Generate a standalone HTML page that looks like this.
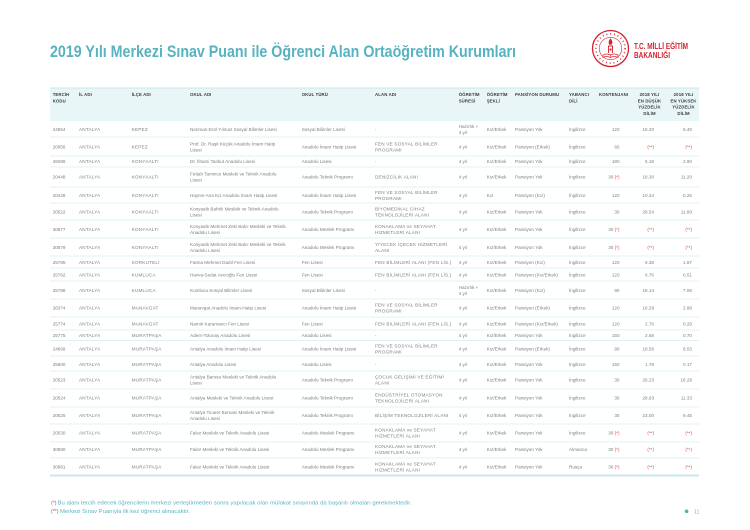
<!DOCTYPE html>
<html>
<head>
<meta charset="utf-8">
<style>
html,body{margin:0;padding:0;background:#fff;}
body{width:750px;height:530px;overflow:hidden;}
svg{display:block;}
.t{font-family:"Liberation Sans Narrow","Liberation Sans",sans-serif;font-weight:bold;font-size:16.5px;fill:#57b2c1;}
.lg{font-family:"Liberation Sans",sans-serif;font-weight:bold;font-size:8.4px;fill:#d3222e;}
.h{font-family:"Liberation Sans",sans-serif;font-weight:bold;font-size:4.3px;fill:#3c3c3c;letter-spacing:.12px;}
.c{text-anchor:middle;}
.d text{font-family:"Liberation Sans",sans-serif;font-size:4.6px;fill:#7e7e7e;}
.d .u{letter-spacing:.22px;}
.d .r{text-anchor:end;}
.d .red,.red{fill:#e0424f;}
.f{font-family:"Liberation Sans Narrow","Liberation Sans",sans-serif;font-size:5.2px;fill:#5ab3c2;}
.fr{font-family:"Liberation Sans Narrow","Liberation Sans",sans-serif;font-size:5.2px;fill:#e0424f;}
</style>
</head>
<body>
<svg width="750" height="530" viewBox="0 0 750 530" xmlns="http://www.w3.org/2000/svg">
<rect width="750" height="530" fill="#fff"/>
<!-- Title -->
<text class="t" x="50" y="57" textLength="466" lengthAdjust="spacingAndGlyphs">2019 Yılı Merkezi Sınav Puanı ile Öğrenci Alan Ortaöğretim Kurumları</text>
<!-- Logo -->
<g stroke="#d3222e" fill="none">
<circle cx="610.5" cy="48.5" r="18" stroke-width="1.3"/>
<circle cx="610.5" cy="48.5" r="14.6" stroke-width="1.6" stroke-dasharray="0.9 2.9"/>
<circle cx="610.5" cy="48.5" r="11.2" stroke-width="0.6"/>
<path d="M603 55 Q606.5 53 610.5 55 Q614.5 53 618 55 L618 57.5 Q614.5 55.5 610.5 57.5 Q606.5 55.5 603 57.5 Z" stroke-width="0.7"/>
<line x1="610.5" y1="55" x2="610.5" y2="57.5" stroke-width="0.6"/>
<path d="M608.5 53 L608.5 46 L612.5 46 L612.5 53" stroke-width="0.9"/>
<path d="M610.5 38.5 Q608 41.5 609.3 44.5 L611.7 44.5 Q613 41.5 610.5 38.5 Z" fill="#d3222e" stroke-width="0.4"/>
<circle cx="610.5" cy="49.5" r="1.1" fill="#d3222e" stroke="none"/>
</g>
<text class="lg" x="634" y="49" textLength="54" lengthAdjust="spacingAndGlyphs">T.C. MİLLİ EĞİTİM</text>
<text class="lg" x="634" y="57.8" textLength="36" lengthAdjust="spacingAndGlyphs">BAKANLIĞI</text>

<!-- Header -->
<rect x="50" y="88" width="649" height="33" fill="#e9f6f8"/>
<line x1="50" y1="88" x2="699" y2="88" stroke="#c9e7ec" stroke-width="1"/>
<g class="h">
<text class="h" x="52.7" y="95.9">TERCİH</text><text class="h" x="52.7" y="102.3">KODU</text>
<text class="h" x="79" y="95.9">İL ADI</text>
<text class="h" x="131.7" y="95.9">İLÇE ADI</text>
<text class="h" x="190" y="95.9">OKUL ADI</text>
<text class="h" x="301.7" y="95.9">OKUL TÜRÜ</text>
<text class="h" x="375" y="95.9">ALAN ADI</text>
<text class="h" x="458.7" y="95.9">ÖĞRETİM</text><text class="h" x="458.7" y="102.3">SÜRESİ</text>
<text class="h" x="486.7" y="95.9">ÖĞRETİM</text><text class="h" x="486.7" y="102.3">ŞEKLİ</text>
<text class="h" x="515" y="95.9">PANSİYON DURUMU</text>
<text class="h" x="569" y="95.9">YABANCI</text><text class="h" x="569" y="102.3">DİLİ</text>
<text class="h" x="599" y="95.9">KONTENJANI</text>
<text class="h c" x="649.5" y="95.9">2018 YILI</text><text class="h c" x="649.5" y="102.3">EN DÜŞÜK</text><text class="h c" x="649.5" y="108.6">YÜZDELİK</text><text class="h c" x="649.5" y="114.9">DİLİM</text>
<text class="h c" x="683.5" y="95.9">2018 YILI</text><text class="h c" x="683.5" y="102.3">EN YÜKSEK</text><text class="h c" x="683.5" y="108.6">YÜZDELİK</text><text class="h c" x="683.5" y="114.9">DİLİM</text>
</g>

<!-- Row lines -->
<g stroke="#d4ecf0" stroke-width="0.8">
<line x1="50" y1="137" x2="699" y2="137"/>
<line x1="50" y1="156" x2="699" y2="156"/>
<line x1="50" y1="167" x2="699" y2="167"/>
<line x1="50" y1="187" x2="699" y2="187"/>
<line x1="50" y1="203" x2="699" y2="203"/>
<line x1="50" y1="220" x2="699" y2="220"/>
<line x1="50" y1="238" x2="699" y2="238"/>
<line x1="50" y1="256" x2="699" y2="256"/>
<line x1="50" y1="268" x2="699" y2="268"/>
<line x1="50" y1="281" x2="699" y2="281"/>
<line x1="50" y1="299" x2="699" y2="299"/>
<line x1="50" y1="317" x2="699" y2="317"/>
<line x1="50" y1="330" x2="699" y2="330"/>
<line x1="50" y1="340.5" x2="699" y2="340.5"/>
<line x1="50" y1="356" x2="699" y2="356"/>
<line x1="50" y1="371" x2="699" y2="371"/>
<line x1="50" y1="389" x2="699" y2="389"/>
<line x1="50" y1="407" x2="699" y2="407"/>
<line x1="50" y1="424" x2="699" y2="424"/>
<line x1="50" y1="442" x2="699" y2="442"/>
<line x1="50" y1="458" x2="699" y2="458"/>
</g>
<line x1="50" y1="475.5" x2="699" y2="475.5" stroke="#cbe7ec" stroke-width="2"/>

<!-- Rows -->
<g class="d">
<!-- r1 -->
<g transform="translate(0,129.5)">
<text x="52.7" y="1.7">24854</text><text class="u" x="79" y="1.7">ANTALYA</text><text class="u" x="131.7" y="1.7">KEPEZ</text>
<text x="190" y="1.7">Neriman-Erol Yılmaz Sosyal Bilimler Lisesi</text><text x="301.7" y="1.7">Sosyal Bilimler Lisesi</text><text x="375" y="1.7">-</text>
<text x="458.7"><tspan x="458.7" y="-1.3">Hazırlık +</tspan><tspan x="458.7" y="4.7">4 yıl</tspan></text>
<text x="486.7" y="1.7">Kız/Erkek</text><text x="515" y="1.7">Pansiyon Yok</text><text x="569" y="1.7">İngilizce</text>
<text class="r" x="619.5" y="1.7">120</text><text class="r" x="654" y="1.7">15.20</text><text class="r" x="692" y="1.7">5.49</text>
</g>
<!-- r2 -->
<g transform="translate(0,146.7)">
<text x="52.7" y="1.7">20056</text><text class="u" x="79" y="1.7">ANTALYA</text><text class="u" x="131.7" y="1.7">KEPEZ</text>
<text x="190"><tspan x="190" y="-1.3">Prof. Dr. Raşit Küçük Anadolu İmam Hatip</tspan><tspan x="190" y="4.7">Lisesi</tspan></text>
<text x="301.7" y="1.7">Anadolu İmam Hatip Lisesi</text>
<text class="u" x="375"><tspan x="375" y="-1.3">FEN VE SOSYAL BİLİMLER</tspan><tspan x="375" y="4.7">PROGRAMI</tspan></text>
<text x="458.7" y="1.7">4 yıl</text><text x="486.7" y="1.7">Kız/Erkek</text><text x="515" y="1.7">Pansiyon (Erkek)</text><text x="569" y="1.7">İngilizce</text>
<text class="r" x="619.5" y="1.7">60</text><text class="r red" x="654" y="1.7">(**)</text><text class="r red" x="692" y="1.7">(**)</text>
</g>
<!-- r3 -->
<g transform="translate(0,161.3)">
<text x="52.7" y="1.7">26098</text><text class="u" x="79" y="1.7">ANTALYA</text><text class="u" x="131.7" y="1.7">KONYAALTI</text>
<text x="190" y="1.7">Dr. İlhami Tankut Anadolu Lisesi</text><text x="301.7" y="1.7">Anadolu Lisesi</text><text x="375" y="1.7">-</text>
<text x="458.7" y="1.7">4 yıl</text><text x="486.7" y="1.7">Kız/Erkek</text><text x="515" y="1.7">Pansiyon Yok</text><text x="569" y="1.7">İngilizce</text>
<text class="r" x="619.5" y="1.7">180</text><text class="r" x="654" y="1.7">5.18</text><text class="r" x="692" y="1.7">2.90</text>
</g>
<!-- r4 -->
<g transform="translate(0,177)">
<text x="52.7" y="1.7">20448</text><text class="u" x="79" y="1.7">ANTALYA</text><text class="u" x="131.7" y="1.7">KONYAALTI</text>
<text x="190"><tspan x="190" y="-1.3">Fettah Tamince Mesleki ve Teknik Anadolu</tspan><tspan x="190" y="4.7">Lisesi</tspan></text>
<text x="301.7" y="1.7">Anadolu Teknik Programı</text><text class="u" x="375" y="1.7">DENİZCİLİK ALANI</text>
<text x="458.7" y="1.7">4 yıl</text><text x="486.7" y="1.7">Kız/Erkek</text><text x="515" y="1.7">Pansiyon Yok</text><text x="569" y="1.7">İngilizce</text>
<text class="r" x="619.5" y="1.7">30 <tspan class="red">(*)</tspan></text><text class="r" x="654" y="1.7">18.30</text><text class="r" x="692" y="1.7">11.20</text>
</g>
<!-- r5 -->
<g transform="translate(0,195.3)">
<text x="52.7" y="1.7">20428</text><text class="u" x="79" y="1.7">ANTALYA</text><text class="u" x="131.7" y="1.7">KONYAALTI</text>
<text x="190" y="1.7">Hayme Ana Kız Anadolu İmam Hatip Lisesi</text><text x="301.7" y="1.7">Anadolu İmam Hatip Lisesi</text>
<text class="u" x="375"><tspan x="375" y="-1.3">FEN VE SOSYAL BİLİMLER</tspan><tspan x="375" y="4.7">PROGRAMI</tspan></text>
<text x="458.7" y="1.7">4 yıl</text><text x="486.7" y="1.7">Kız</text><text x="515" y="1.7">Pansiyon (Kız)</text><text x="569" y="1.7">İngilizce</text>
<text class="r" x="619.5" y="1.7">120</text><text class="r" x="654" y="1.7">10.34</text><text class="r" x="692" y="1.7">0.26</text>
</g>
<!-- r6 -->
<g transform="translate(0,211.7)">
<text x="52.7" y="1.7">20522</text><text class="u" x="79" y="1.7">ANTALYA</text><text class="u" x="131.7" y="1.7">KONYAALTI</text>
<text x="190"><tspan x="190" y="-1.3">Konyaaltı Bahtılı Mesleki ve Teknik Anadolu</tspan><tspan x="190" y="4.7">Lisesi</tspan></text>
<text x="301.7" y="1.7">Anadolu Teknik Programı</text>
<text class="u" x="375"><tspan x="375" y="-1.3">BİYOMEDİKAL CİHAZ</tspan><tspan x="375" y="4.7">TEKNOLOJİLERİ ALANI</tspan></text>
<text x="458.7" y="1.7">4 yıl</text><text x="486.7" y="1.7">Kız/Erkek</text><text x="515" y="1.7">Pansiyon Yok</text><text x="569" y="1.7">İngilizce</text>
<text class="r" x="619.5" y="1.7">30</text><text class="r" x="654" y="1.7">28.54</text><text class="r" x="692" y="1.7">11.80</text>
</g>
<!-- r7 -->
<g transform="translate(0,229.5)">
<text x="52.7" y="1.7">30877</text><text class="u" x="79" y="1.7">ANTALYA</text><text class="u" x="131.7" y="1.7">KONYAALTI</text>
<text x="190"><tspan x="190" y="-1.3">Konyaaltı Mehmet Zeki Balcı Mesleki ve Teknik</tspan><tspan x="190" y="4.7">Anadolu Lisesi</tspan></text>
<text x="301.7" y="1.7">Anadolu Meslek Programı</text>
<text class="u" x="375"><tspan x="375" y="-1.3">KONAKLAMA ve SEYAHAT</tspan><tspan x="375" y="4.7">HİZMETLERİ ALANI</tspan></text>
<text x="458.7" y="1.7">4 yıl</text><text x="486.7" y="1.7">Kız/Erkek</text><text x="515" y="1.7">Pansiyon Yok</text><text x="569" y="1.7">İngilizce</text>
<text class="r" x="619.5" y="1.7">30 <tspan class="red">(*)</tspan></text><text class="r red" x="654" y="1.7">(**)</text><text class="r red" x="692" y="1.7">(**)</text>
</g>
<!-- r8 -->
<g transform="translate(0,247.3)">
<text x="52.7" y="1.7">30879</text><text class="u" x="79" y="1.7">ANTALYA</text><text class="u" x="131.7" y="1.7">KONYAALTI</text>
<text x="190"><tspan x="190" y="-1.3">Konyaaltı Mehmet Zeki Balcı Mesleki ve Teknik</tspan><tspan x="190" y="4.7">Anadolu Lisesi</tspan></text>
<text x="301.7" y="1.7">Anadolu Meslek Programı</text>
<text class="u" x="375"><tspan x="375" y="-1.3">YİYECEK İÇECEK HİZMETLERİ</tspan><tspan x="375" y="4.7">ALANI</tspan></text>
<text x="458.7" y="1.7">4 yıl</text><text x="486.7" y="1.7">Kız/Erkek</text><text x="515" y="1.7">Pansiyon Yok</text><text x="569" y="1.7">İngilizce</text>
<text class="r" x="619.5" y="1.7">30 <tspan class="red">(*)</tspan></text><text class="r red" x="654" y="1.7">(**)</text><text class="r red" x="692" y="1.7">(**)</text>
</g>
<!-- r9 -->
<g transform="translate(0,262.2)">
<text x="52.7" y="1.7">25785</text><text class="u" x="79" y="1.7">ANTALYA</text><text class="u" x="131.7" y="1.7">KORKUTELİ</text>
<text x="190" y="1.7">Fatma Mehmet Dadıl Fen Lisesi</text><text x="301.7" y="1.7">Fen Lisesi</text><text class="u" x="375" y="1.7">FEN BİLİMLERİ ALANI (FEN LİS.)</text>
<text x="458.7" y="1.7">4 yıl</text><text x="486.7" y="1.7">Kız/Erkek</text><text x="515" y="1.7">Pansiyon (Kız)</text><text x="569" y="1.7">İngilizce</text>
<text class="r" x="619.5" y="1.7">120</text><text class="r" x="654" y="1.7">6.38</text><text class="r" x="692" y="1.7">1.87</text>
</g>
<!-- r10 -->
<g transform="translate(0,274.8)">
<text x="52.7" y="1.7">25762</text><text class="u" x="79" y="1.7">ANTALYA</text><text class="u" x="131.7" y="1.7">KUMLUCA</text>
<text x="190" y="1.7">Havva-Sedat Avcıoğlu Fen Lisesi</text><text x="301.7" y="1.7">Fen Lisesi</text><text class="u" x="375" y="1.7">FEN BİLİMLERİ ALANI (FEN LİS.)</text>
<text x="458.7" y="1.7">4 yıl</text><text x="486.7" y="1.7">Kız/Erkek</text><text x="515" y="1.7">Pansiyon (Kız/Erkek)</text><text x="569" y="1.7">İngilizce</text>
<text class="r" x="619.5" y="1.7">120</text><text class="r" x="654" y="1.7">6.76</text><text class="r" x="692" y="1.7">0.51</text>
</g>
<!-- r11 -->
<g transform="translate(0,290.2)">
<text x="52.7" y="1.7">25788</text><text class="u" x="79" y="1.7">ANTALYA</text><text class="u" x="131.7" y="1.7">KUMLUCA</text>
<text x="190" y="1.7">Kumluca Sosyal Bilimler Lisesi</text><text x="301.7" y="1.7">Sosyal Bilimler Lisesi</text><text x="375" y="1.7">-</text>
<text x="458.7"><tspan x="458.7" y="-1.3">Hazırlık +</tspan><tspan x="458.7" y="4.7">4 yıl</tspan></text>
<text x="486.7" y="1.7">Kız/Erkek</text><text x="515" y="1.7">Pansiyon (Kız)</text><text x="569" y="1.7">İngilizce</text>
<text class="r" x="619.5" y="1.7">90</text><text class="r" x="654" y="1.7">18.14</text><text class="r" x="692" y="1.7">7.06</text>
</g>
<!-- r12 -->
<g transform="translate(0,308)">
<text x="52.7" y="1.7">26374</text><text class="u" x="79" y="1.7">ANTALYA</text><text class="u" x="131.7" y="1.7">MANAVGAT</text>
<text x="190" y="1.7">Manavgat Anadolu İmam-Hatip Lisesi</text><text x="301.7" y="1.7">Anadolu İmam Hatip Lisesi</text>
<text class="u" x="375"><tspan x="375" y="-1.3">FEN VE SOSYAL BİLİMLER</tspan><tspan x="375" y="4.7">PROGRAMI</tspan></text>
<text x="458.7" y="1.7">4 yıl</text><text x="486.7" y="1.7">Kız/Erkek</text><text x="515" y="1.7">Pansiyon (Erkek)</text><text x="569" y="1.7">İngilizce</text>
<text class="r" x="619.5" y="1.7">120</text><text class="r" x="654" y="1.7">16.29</text><text class="r" x="692" y="1.7">2.88</text>
</g>
<!-- r13 -->
<g transform="translate(0,323.6)">
<text x="52.7" y="1.7">25774</text><text class="u" x="79" y="1.7">ANTALYA</text><text class="u" x="131.7" y="1.7">MANAVGAT</text>
<text x="190" y="1.7">Namık Karamancı Fen Lisesi</text><text x="301.7" y="1.7">Fen Lisesi</text><text class="u" x="375" y="1.7">FEN BİLİMLERİ ALANI (FEN LİS.)</text>
<text x="458.7" y="1.7">4 yıl</text><text x="486.7" y="1.7">Kız/Erkek</text><text x="515" y="1.7">Pansiyon (Kız/Erkek)</text><text x="569" y="1.7">İngilizce</text>
<text class="r" x="619.5" y="1.7">120</text><text class="r" x="654" y="1.7">2.76</text><text class="r" x="692" y="1.7">0.29</text>
</g>
<!-- r14 -->
<g transform="translate(0,335.3)">
<text x="52.7" y="1.7">25775</text><text class="u" x="79" y="1.7">ANTALYA</text><text class="u" x="131.7" y="1.7">MURATPAŞA</text>
<text x="190" y="1.7">Adem-Tolunay Anadolu Lisesi</text><text x="301.7" y="1.7">Anadolu Lisesi</text><text x="375" y="1.7">-</text>
<text x="458.7" y="1.7">4 yıl</text><text x="486.7" y="1.7">Kız/Erkek</text><text x="515" y="1.7">Pansiyon Yok</text><text x="569" y="1.7">İngilizce</text>
<text class="r" x="619.5" y="1.7">150</text><text class="r" x="654" y="1.7">2.68</text><text class="r" x="692" y="1.7">0.70</text>
</g>
<!-- r15 -->
<g transform="translate(0,349)">
<text x="52.7" y="1.7">24668</text><text class="u" x="79" y="1.7">ANTALYA</text><text class="u" x="131.7" y="1.7">MURATPAŞA</text>
<text x="190" y="1.7">Antalya Anadolu İmam Hatip Lisesi</text><text x="301.7" y="1.7">Anadolu İmam Hatip Lisesi</text>
<text class="u" x="375"><tspan x="375" y="-1.3">FEN VE SOSYAL BİLİMLER</tspan><tspan x="375" y="4.7">PROGRAMI</tspan></text>
<text x="458.7" y="1.7">4 yıl</text><text x="486.7" y="1.7">Kız/Erkek</text><text x="515" y="1.7">Pansiyon (Erkek)</text><text x="569" y="1.7">İngilizce</text>
<text class="r" x="619.5" y="1.7">90</text><text class="r" x="654" y="1.7">18.56</text><text class="r" x="692" y="1.7">8.53</text>
</g>
<!-- r16 -->
<g transform="translate(0,364.5)">
<text x="52.7" y="1.7">25800</text><text class="u" x="79" y="1.7">ANTALYA</text><text class="u" x="131.7" y="1.7">MURATPAŞA</text>
<text x="190" y="1.7">Antalya Anadolu Lisesi</text><text x="301.7" y="1.7">Anadolu Lisesi</text><text x="375" y="1.7">-</text>
<text x="458.7" y="1.7">4 yıl</text><text x="486.7" y="1.7">Kız/Erkek</text><text x="515" y="1.7">Pansiyon Yok</text><text x="569" y="1.7">İngilizce</text>
<text class="r" x="619.5" y="1.7">150</text><text class="r" x="654" y="1.7">1.78</text><text class="r" x="692" y="1.7">0.17</text>
</g>
<!-- r17 -->
<g transform="translate(0,380)">
<text x="52.7" y="1.7">20523</text><text class="u" x="79" y="1.7">ANTALYA</text><text class="u" x="131.7" y="1.7">MURATPAŞA</text>
<text x="190"><tspan x="190" y="-1.3">Antalya Barosu Mesleki ve Teknik Anadolu</tspan><tspan x="190" y="4.7">Lisesi</tspan></text>
<text x="301.7" y="1.7">Anadolu Teknik Programı</text>
<text class="u" x="375"><tspan x="375" y="-1.3">ÇOCUK GELİŞİMİ VE EĞİTİMİ</tspan><tspan x="375" y="4.7">ALANI</tspan></text>
<text x="458.7" y="1.7">4 yıl</text><text x="486.7" y="1.7">Kız/Erkek</text><text x="515" y="1.7">Pansiyon Yok</text><text x="569" y="1.7">İngilizce</text>
<text class="r" x="619.5" y="1.7">30</text><text class="r" x="654" y="1.7">26.23</text><text class="r" x="692" y="1.7">16.28</text>
</g>
<!-- r18 -->
<g transform="translate(0,398)">
<text x="52.7" y="1.7">20524</text><text class="u" x="79" y="1.7">ANTALYA</text><text class="u" x="131.7" y="1.7">MURATPAŞA</text>
<text x="190" y="1.7">Antalya Mesleki ve Teknik Anadolu Lisesi</text><text x="301.7" y="1.7">Anadolu Teknik Programı</text>
<text class="u" x="375"><tspan x="375" y="-1.3">ENDÜSTRİYEL OTOMASYON</tspan><tspan x="375" y="4.7">TEKNOLOJİLERİ ALANI</tspan></text>
<text x="458.7" y="1.7">4 yıl</text><text x="486.7" y="1.7">Kız/Erkek</text><text x="515" y="1.7">Pansiyon Yok</text><text x="569" y="1.7">İngilizce</text>
<text class="r" x="619.5" y="1.7">30</text><text class="r" x="654" y="1.7">28.93</text><text class="r" x="692" y="1.7">11.33</text>
</g>
<!-- r19 -->
<g transform="translate(0,415.5)">
<text x="52.7" y="1.7">20525</text><text class="u" x="79" y="1.7">ANTALYA</text><text class="u" x="131.7" y="1.7">MURATPAŞA</text>
<text x="190"><tspan x="190" y="-1.3">Antalya Ticaret Borsası Mesleki ve Teknik</tspan><tspan x="190" y="4.7">Anadolu Lisesi</tspan></text>
<text x="301.7" y="1.7">Anadolu Teknik Programı</text><text class="u" x="375" y="1.7">BİLİŞİM TEKNOLOJİLERİ ALANI</text>
<text x="458.7" y="1.7">4 yıl</text><text x="486.7" y="1.7">Kız/Erkek</text><text x="515" y="1.7">Pansiyon Yok</text><text x="569" y="1.7">İngilizce</text>
<text class="r" x="619.5" y="1.7">30</text><text class="r" x="654" y="1.7">23.00</text><text class="r" x="692" y="1.7">9.45</text>
</g>
<!-- r20 -->
<g transform="translate(0,432.8)">
<text x="52.7" y="1.7">20530</text><text class="u" x="79" y="1.7">ANTALYA</text><text class="u" x="131.7" y="1.7">MURATPAŞA</text>
<text x="190" y="1.7">Falez Mesleki ve Teknik Anadolu Lisesi</text><text x="301.7" y="1.7">Anadolu Meslek Programı</text>
<text class="u" x="375"><tspan x="375" y="-1.3">KONAKLAMA ve SEYAHAT</tspan><tspan x="375" y="4.7">HİZMETLERİ ALANI</tspan></text>
<text x="458.7" y="1.7">4 yıl</text><text x="486.7" y="1.7">Kız/Erkek</text><text x="515" y="1.7">Pansiyon Yok</text><text x="569" y="1.7">İngilizce</text>
<text class="r" x="619.5" y="1.7">30 <tspan class="red">(*)</tspan></text><text class="r red" x="654" y="1.7">(**)</text><text class="r red" x="692" y="1.7">(**)</text>
</g>
<!-- r21 -->
<g transform="translate(0,449.5)">
<text x="52.7" y="1.7">30880</text><text class="u" x="79" y="1.7">ANTALYA</text><text class="u" x="131.7" y="1.7">MURATPAŞA</text>
<text x="190" y="1.7">Falez Mesleki ve Teknik Anadolu Lisesi</text><text x="301.7" y="1.7">Anadolu Meslek Programı</text>
<text class="u" x="375"><tspan x="375" y="-1.3">KONAKLAMA ve SEYAHAT</tspan><tspan x="375" y="4.7">HİZMETLERİ ALANI</tspan></text>
<text x="458.7" y="1.7">4 yıl</text><text x="486.7" y="1.7">Kız/Erkek</text><text x="515" y="1.7">Pansiyon Yok</text><text x="569" y="1.7">Almanca</text>
<text class="r" x="619.5" y="1.7">30 <tspan class="red">(*)</tspan></text><text class="r red" x="654" y="1.7">(**)</text><text class="r red" x="692" y="1.7">(**)</text>
</g>
<!-- r22 -->
<g transform="translate(0,467)">
<text x="52.7" y="1.7">30881</text><text class="u" x="79" y="1.7">ANTALYA</text><text class="u" x="131.7" y="1.7">MURATPAŞA</text>
<text x="190" y="1.7">Falez Mesleki ve Teknik Anadolu Lisesi</text><text x="301.7" y="1.7">Anadolu Meslek Programı</text>
<text class="u" x="375"><tspan x="375" y="-1.3">KONAKLAMA ve SEYAHAT</tspan><tspan x="375" y="4.7">HİZMETLERİ ALANI</tspan></text>
<text x="458.7" y="1.7">4 yıl</text><text x="486.7" y="1.7">Kız/Erkek</text><text x="515" y="1.7">Pansiyon Yok</text><text x="569" y="1.7">Rusça</text>
<text class="r" x="619.5" y="1.7">30 <tspan class="red">(*)</tspan></text><text class="r red" x="654" y="1.7">(**)</text><text class="r red" x="692" y="1.7">(**)</text>
</g>
</g>

<!-- Footer -->
<text class="fr" x="51" y="504.5">(*)</text>
<text class="f" x="57.5" y="504.5" textLength="354" lengthAdjust="spacingAndGlyphs">Bu alanı tercih edecek öğrencilerin merkezi yerleştirmeden sonra yapılacak olan mülakat sınavında da  başarılı olmaları gerekmektedir.</text>
<text class="fr" x="51" y="513">(**)</text>
<text class="f" x="60" y="513" textLength="130" lengthAdjust="spacingAndGlyphs">Merkezi Sınav Puanıyla ilk kez öğrenci alınacaktır.</text>
<circle cx="686.6" cy="511.3" r="1.8" fill="#4fb0bf"/>
<text class="f" x="694" y="513.3" style="fill:#6fb8c4">11</text>
</svg>
</body>
</html>
